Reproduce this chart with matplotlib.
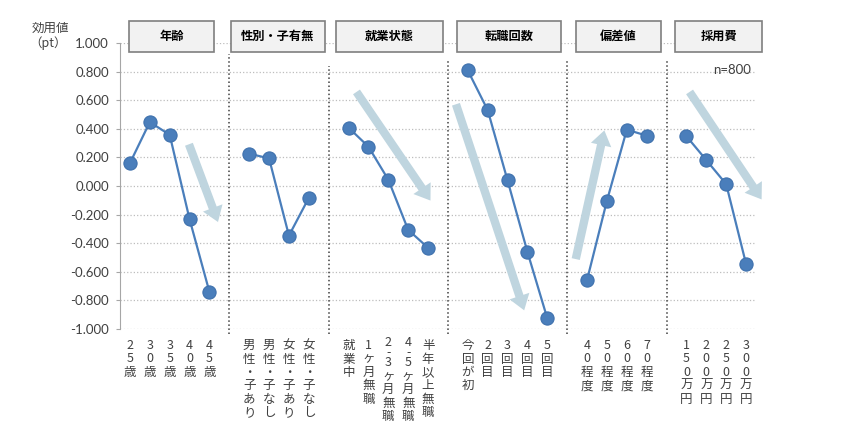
import matplotlib
matplotlib.use("Agg")
import matplotlib.pyplot as plt
from matplotlib.patches import Rectangle

plt.rcParams['font.family'] = ['Noto Sans CJK JP', 'DejaVu Sans']

groups = ['年齢', '性別・子有無', '就業状態', '転職回数', '偏差値', '採用費']
labels = [
    ['25歳', '30歳', '35歳', '40歳', '45歳'],
    ['男性・子あり', '男性・子なし', '女性・子あり', '女性・子なし'],
    ['就業中', '1ヶ月無職', '2-3ヶ月無職', '4-5ヶ月無職', '半年以上無職'],
    ['今回が初', '2回目', '3回目', '4回目', '5回目'],
    ['40程度', '50程度', '60程度', '70程度'],
    ['150万円', '200万円', '250万円', '300万円'],
]
values = [
    [0.160, 0.447, 0.358, -0.232, -0.741],
    [0.226, 0.193, -0.347, -0.083],
    [0.408, 0.275, 0.044, -0.307, -0.432],
    [0.808, 0.531, 0.039, -0.461, -0.926],
    [-0.657, -0.103, 0.394, 0.352],
    [0.348, 0.181, 0.013, -0.545],
]
# trend arrows (start, end) per group
trend_arrows = [
    ((2.92, 0.31), (4.48, -0.27)),
    None,
    ((11.32, 0.674), (15.2, -0.118)),
    ((16.36, 0.59), (19.88, -0.888)),
    ((22.4, -0.53), (23.9, 0.408)),
    ((28.08, 0.674), (31.86, -0.11)),
]
# header box extents in slot units
box_spans = [(-0.07, 4.24), (5.07, 9.83), (10.37, 15.77),
             (16.44, 21.67), (22.45, 26.71), (27.43, 31.82)]

line_color = '#4a7ebb'
arrow_color = '#bfd5df'
text_color = '#404040'

fig = plt.figure(figsize=(8.46, 4.40), dpi=100)
ax = fig.add_axes([120 / 846, 1 - 329 / 440, 636 / 846, 286 / 440])

# slot positions: one empty slot between groups
positions = []
pos = 0
for g in labels:
    positions.append(list(range(pos, pos + len(g))))
    pos += len(g) + 1

for i, (xs, ys) in enumerate(zip(positions, values)):
    ax.plot(xs, ys, '-o', color=line_color, lw=1.6, markersize=9.5,
            markerfacecolor=line_color, markeredgecolor='#3f71ad',
            markeredgewidth=0.8, zorder=4)
    if trend_arrows[i] is not None:
        start, end = trend_arrows[i]
        ax.annotate('', xy=end, xytext=start,
                    arrowprops=dict(arrowstyle='simple,head_width=1.25,head_length=0.9,tail_width=0.5',
                                    color=arrow_color, lw=0, mutation_scale=12),
                    zorder=2, annotation_clip=False)

ax.set_xlim(-0.5, pos - 1.5)
ax.set_ylim(-1.0, 1.0)
ax.set_yticks([1.0, 0.8, 0.6, 0.4, 0.2, 0.0, -0.2, -0.4, -0.6, -0.8, -1.0])
ax.set_yticklabels(['%.3f' % t for t in ax.get_yticks()], family='Lato',
                   fontsize=9.5, color=text_color)
ax.set_xticks([])
ax.yaxis.grid(True, linestyle=':', color='#bdbdbd', lw=0.9)
ax.set_axisbelow(True)
for s in ['top', 'right', 'bottom']:
    ax.spines[s].set_visible(False)
ax.spines['left'].set_color('#a6a6a6')
ax.tick_params(axis='y', length=3, color='#a6a6a6', pad=5)

# dotted separators between groups
sep_tops = [0.92, 0.84, 0.88, 0.88, 0.88]
for i in range(len(positions) - 1):
    xsep = (positions[i][-1] + positions[i + 1][0]) / 2
    ax.plot([xsep, xsep], [-1.036, sep_tops[i]], ls=':', color='#404040',
            lw=1.1, clip_on=False, zorder=3)

# group header boxes
for (x0, x1), name in zip(box_spans, groups):
    ax.add_patch(Rectangle((x0, 0.935), x1 - x0, 0.222, facecolor='#f2f2f2',
                           edgecolor='#7f7f7f', lw=1.2, clip_on=False, zorder=5))
    ax.text((x0 + x1) / 2, 1.046, name, ha='center', va='center', fontsize=8.8,
            fontweight='bold', color='#000000', zorder=6)


def put_char(x, off, s, **kw):
    ax.annotate(s, xy=(x, -1.0), xytext=(0, -off), textcoords='offset points',
                ha='center', va='center', fontsize=9, color=text_color,
                annotation_clip=False, **kw)


# vertical tick labels, one character per line
char_step = 9.6
for xs, labs in zip(positions, labels):
    for x, lab in zip(xs, labs):
        chars = list(lab)
        off = 12.0
        i = 0
        while i < len(chars):
            if i + 2 < len(chars) and chars[i + 1] == '-':
                # "2-3": compact block with a short dash between the digits
                put_char(x, off + 0.55 * char_step,
                         chars[i] + '\n-\n' + chars[i + 2], linespacing=0.7)
                off += 2.3 * char_step
                i += 3
            else:
                put_char(x, off, chars[i])
                off += char_step
                i += 1

fig.text(50 / 846, 1 - 28 / 440, '効用値', ha='center', va='center', fontsize=9,
         color=text_color)
fig.text(48 / 846, 1 - 43 / 440, '（pt）', ha='center', va='center', fontsize=9,
         color=text_color)
fig.text(751 / 846, 1 - 70 / 440, 'n=800', ha='right', va='center', fontsize=9.5,
         color=text_color, family='Lato')

fig.savefig('out.png', dpi=100)
